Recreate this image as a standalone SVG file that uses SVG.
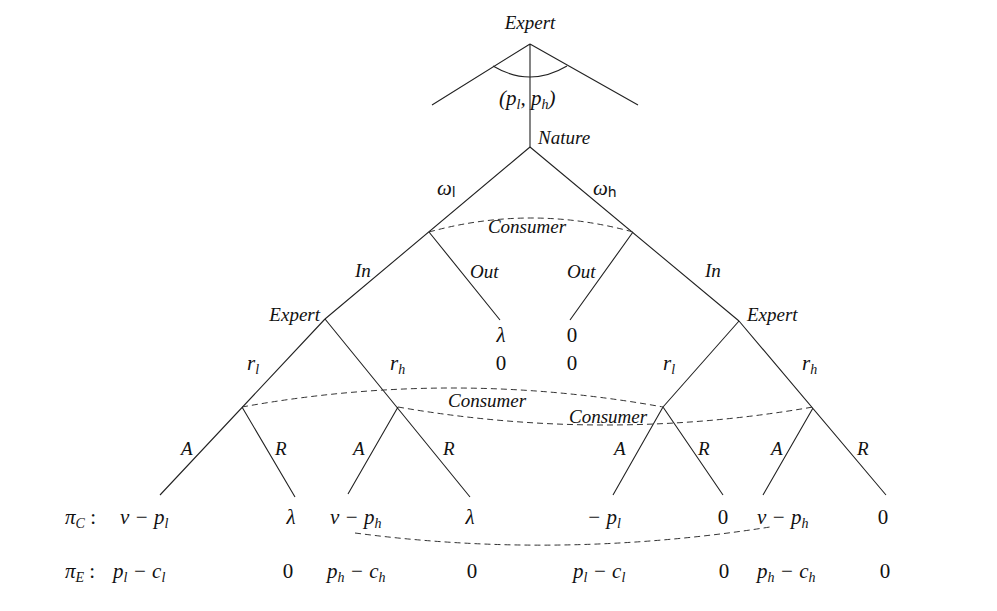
<svg xmlns="http://www.w3.org/2000/svg" width="997" height="611" viewBox="0 0 997 611">
<style>
.e{stroke:#222;stroke-width:1.1;fill:none}
.d{stroke:#333;stroke-width:1;fill:none;stroke-dasharray:6 4}
.l{font-family:"Liberation Serif",serif;font-style:italic;font-size:19px;fill:#111}
.m{font-family:"Liberation Serif",serif;font-size:21px;fill:#111}
.i{font-style:italic}
.s{font-size:14px}
</style>
<rect width="997" height="611" fill="#fff"/>
<g id="connectors">
<path class="e" d="M530,44 L432,105 M530,44 L638,105 M530,44 L530,147"/>
<path class="e" d="M493,66 Q530,88 567,66"/>
<path class="e" d="M530,147 L325,319 M530,147 L739,321"/>
<path class="e" d="M429,232 L500,320 M633,232 L570,320"/>
<path class="e" d="M325,319 L160,495 M325,319 L470,497 M242,407 L295,497 M398,407 L348,494"/>
<path class="e" d="M739,321 L663,407 M739,321 L886,495 M663,407 L613,495 M663,407 L723,495 M813,408 L763,495"/>
<path class="d" d="M429,232 Q531,204 633,232"/>
<path class="d" d="M242,407 Q452,369 663,407"/>
<path class="d" d="M398,407 Q605,443 813,407"/>
<path class="d" d="M355,533 Q560,560 770,527"/>
<text class="m i" x="437" y="195">ω<tspan class="s" font-style="normal" font-family="'DejaVu Sans',sans-serif" dy="2">l</tspan></text>
<text class="m i" x="593" y="195">ω<tspan class="s" font-style="normal" font-family="'DejaVu Sans',sans-serif" dy="2">h</tspan></text>
<text class="l" x="355" y="277">In</text>
<text class="l" x="705" y="277">In</text>
<text class="l" x="470" y="278">Out</text>
<text class="l" x="567" y="278">Out</text>
<text class="m i" x="247" y="370">r<tspan class="s" dy="4">l</tspan></text>
<text class="m i" x="390" y="370">r<tspan class="s" dy="4">h</tspan></text>
<text class="m i" x="663" y="370">r<tspan class="s" dy="4">l</tspan></text>
<text class="m i" x="802" y="370">r<tspan class="s" dy="4">h</tspan></text>
<text class="l" x="181" y="455">A</text>
<text class="l" x="275" y="455">R</text>
<text class="l" x="353" y="455">A</text>
<text class="l" x="443" y="455">R</text>
<text class="l" x="614" y="455">A</text>
<text class="l" x="698" y="455">R</text>
<text class="l" x="771" y="455">A</text>
<text class="l" x="857" y="455">R</text>
</g>
<g id="expert-root">
<text class="l" x="530" y="29" text-anchor="middle">Expert</text>
<text class="m i" x="499" y="105" font-size="22">(p<tspan class="s" dy="4">l</tspan><tspan dy="-4">, p</tspan><tspan class="s" dy="4">h</tspan><tspan dy="-4">)</tspan></text>
</g>
<g id="nature"><text class="l" x="538" y="144">Nature</text></g>
<g id="consumer-top"><text class="l" x="527" y="233" text-anchor="middle">Consumer</text></g>
<g id="expert-left"><text class="l" x="320" y="321" text-anchor="end">Expert</text></g>
<g id="expert-right"><text class="l" x="747" y="321">Expert</text></g>
<g id="out-left-leaf">
<text class="m i" x="501" y="342" text-anchor="middle">λ</text>
<text class="m" x="501" y="370" text-anchor="middle">0</text>
</g>
<g id="out-right-leaf">
<text class="m" x="572" y="342" text-anchor="middle">0</text>
<text class="m" x="572" y="370" text-anchor="middle">0</text>
</g>
<g id="consumer-low-1"><text class="l" x="448" y="407">Consumer</text></g>
<g id="consumer-low-2"><text class="l" x="569" y="423">Consumer</text></g>
<g id="payoffs">
<text class="m" x="65" y="524"><tspan class="i">π</tspan><tspan class="s i" dy="4">C</tspan><tspan dy="-4"> :</tspan></text>
<text class="m i" x="120" y="524">v − p<tspan class="s" dy="4">l</tspan></text>
<text class="m i" x="291" y="524" text-anchor="middle">λ</text>
<text class="m i" x="330" y="524">v − p<tspan class="s" dy="4">h</tspan></text>
<text class="m i" x="470" y="524" text-anchor="middle">λ</text>
<text class="m i" x="587" y="524">− p<tspan class="s" dy="4">l</tspan></text>
<text class="m" x="723" y="524" text-anchor="middle">0</text>
<text class="m i" x="757" y="524">v − p<tspan class="s" dy="4">h</tspan></text>
<text class="m" x="883" y="524" text-anchor="middle">0</text>
<text class="m" x="65" y="578"><tspan class="i">π</tspan><tspan class="s i" dy="4">E</tspan><tspan dy="-4"> :</tspan></text>
<text class="m i" x="113" y="578">p<tspan class="s" dy="4">l</tspan><tspan dy="-4"> − c</tspan><tspan class="s" dy="4">l</tspan></text>
<text class="m" x="288" y="578" text-anchor="middle">0</text>
<text class="m i" x="327" y="578">p<tspan class="s" dy="4">h</tspan><tspan dy="-4"> − c</tspan><tspan class="s" dy="4">h</tspan></text>
<text class="m" x="472" y="578" text-anchor="middle">0</text>
<text class="m i" x="573" y="578">p<tspan class="s" dy="4">l</tspan><tspan dy="-4"> − c</tspan><tspan class="s" dy="4">l</tspan></text>
<text class="m" x="724" y="578" text-anchor="middle">0</text>
<text class="m i" x="757" y="578">p<tspan class="s" dy="4">h</tspan><tspan dy="-4"> − c</tspan><tspan class="s" dy="4">h</tspan></text>
<text class="m" x="885" y="578" text-anchor="middle">0</text>
</g>
</svg>
